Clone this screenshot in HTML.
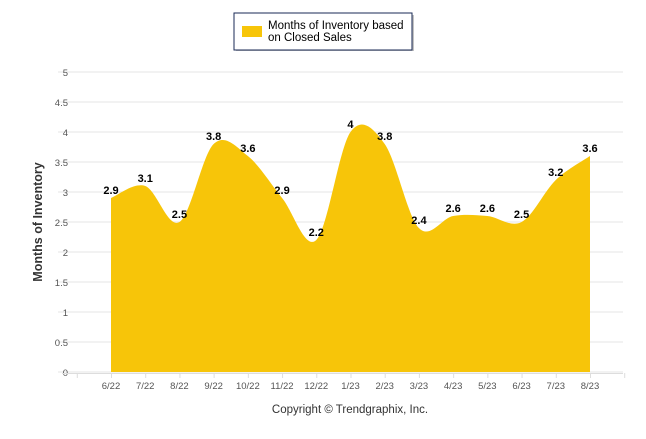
<!DOCTYPE html>
<html><head><meta charset="utf-8"><style>
body{margin:0;background:#fff;width:646px;height:434px;overflow:hidden;font-family:"Liberation Sans",sans-serif}
</style></head><body>
<svg width="646" height="434" id="chart" style="font-family:'Liberation Sans',sans-serif">
<g>
<rect x="236" y="15" width="178" height="36" fill="#888" opacity="0.5"/>
<rect x="234" y="13" width="178" height="37" fill="#fff" stroke="#1a2a55" stroke-width="1"/>
<rect x="242" y="26" width="20" height="11" fill="#F7C509"/>
<text x="268" y="29" font-size="11.5" fill="#000">Months of Inventory based</text>
<text x="268" y="41" font-size="11.5" fill="#000">on Closed Sales</text>
</g>
<g id="grid"></g>
<g id="area"></g>
<g id="labels"></g>
<text transform="translate(42,222) rotate(-90)" text-anchor="middle" font-size="12.5" font-weight="bold" fill="#333">Months of Inventory</text>
<text x="350" y="413" text-anchor="middle" font-size="11.5" fill="#333">Copyright © Trendgraphix, Inc.</text>
</svg>
<script>
const categories=["6/22","7/22","8/22","9/22","10/22","11/22","12/22","1/23","2/23","3/23","4/23","5/23","6/23","7/23","8/23"];
const values=[2.9,3.1,2.5,3.8,3.6,2.9,2.2,4,3.8,2.4,2.6,2.6,2.5,3.2,3.6];
const yTicks=[0,0.5,1,1.5,2,2.5,3,3.5,4,4.5,5];
const NS="http://www.w3.org/2000/svg";
const x=i=>111+i*34.214, y=v=>372-v*60;
function mk(t,a,p){const e=document.createElementNS(NS,t);for(const k in a)e.setAttribute(k,a[k]);p.appendChild(e);return e;}
const grid=document.getElementById('grid');
yTicks.forEach(v=>{
 const l=mk('line',{x1:58,x2:623,y1:y(v),y2:y(v),stroke:'#e6e6e6'},grid);
 
 
 const t=mk('text',{x:68,y:y(v)+4,'text-anchor':'end','font-size':'9.5',fill:'#555'},grid);
 
 
 t.textContent=v;
});
mk('line',{x1:62,x2:623,y1:373.5,y2:373.5,stroke:'#ddd'},grid);
for(let i=-1;i<=categories.length;i++){mk('line',{x1:x(i)+0.5,x2:x(i)+0.5,y1:373,y2:378,stroke:'#ddd'},grid);}
categories.forEach((c,i)=>{
 const t=mk('text',{x:x(i),y:389,'text-anchor':'middle','font-size':'9.5',fill:'#555'},grid);
 
 
 t.textContent=c;
});
const P=values.map((v,i)=>[x(i),y(v)]);
let d=`M${P[0][0]},${y(0)} L${P[0][0]},${P[0][1]}`;
for(let i=0;i<P.length-1;i++){
 const p0=P[Math.max(0,i-1)],p1=P[i],p2=P[i+1],p3=P[Math.min(P.length-1,i+2)];
 const s=1/6*1.0;
 const c1=[p1[0]+(p2[0]-p0[0])*s,p1[1]+(p2[1]-p0[1])*s];
 const c2=[p2[0]-(p3[0]-p1[0])*s,p2[1]-(p3[1]-p1[1])*s];
 d+=` C${c1[0]},${c1[1]} ${c2[0]},${c2[1]} ${p2[0]},${p2[1]}`;
}
d+=` L${P[P.length-1][0]},${y(0)} Z`;
const area=mk('path',{d:d,fill:'#F7C509'},document.getElementById('area'));


const lab=document.getElementById('labels');
values.forEach((v,i)=>{
 const t=mk('text',{x:x(i),y:y(v)-4,'text-anchor':'middle','font-size':'11','font-weight':'bold',fill:'#000'},lab);
 
 
 t.textContent=v;
});
</script>
</body></html>
